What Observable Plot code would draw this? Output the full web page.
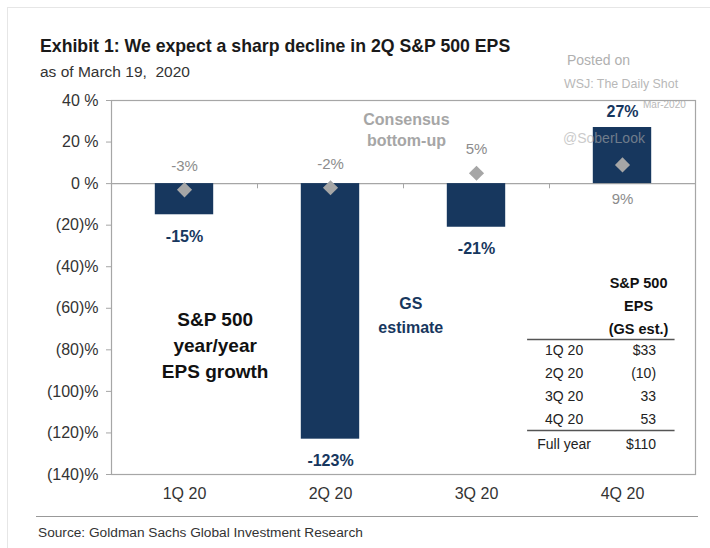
<!DOCTYPE html>
<html>
<head>
<meta charset="utf-8">
<script src="https://cdn.jsdelivr.net/npm/d3@7"></script>
<script src="https://cdn.jsdelivr.net/npm/@observablehq/plot@0.6"></script>
<style>
  html, body { margin: 0; padding: 0; background: #fff; }
  body { width: 710px; height: 548px; position: relative; overflow: hidden;
         font-family: "Liberation Sans", Arial, sans-serif; }
  .abs { position: absolute; white-space: nowrap; line-height: 1; }
  #border { left: 7px; top: 7px; width: 710px; height: 560px; border-left: 1px solid #e6e6e6; border-top: 1px solid #e6e6e6; }
  #title { left: 40px; top: 38px; font-size: 17.7px; font-weight: bold; color: #1a1a1a; }
  #sub { left: 40px; top: 64px; font-size: 15.5px; color: #333; }
  #posted { left: 567px; top: 53px; font-size: 14px; color: #b0b0b0; }
  #wsj { left: 564px; top: 78px; font-size: 12.4px; color: #b8b8b8; }
  #date { left: 643px; top: 100px; font-size: 10px; color: #b8b8b8; z-index: 0; }
  #chart { left: 0; top: 80px; z-index: 1; }
  #handle { left: 563px; top: 131px; font-size: 14px; color: #aaa; opacity: 0.6; z-index: 2; }
  #rule { left: 36px; top: 516px; width: 662px; height: 0; border-top: 1.5px solid #999; }
  #source { left: 38px; top: 526px; font-size: 13.7px; color: #333; }
</style>
</head>
<body>
<div id="border" class="abs"></div>
<div id="title" class="abs">Exhibit 1: We expect a sharp decline in 2Q S&amp;P 500 EPS</div>
<div id="sub" class="abs">as of March 19,&nbsp; 2020</div>
<div id="posted" class="abs">Posted on</div>
<div id="wsj" class="abs">WSJ: The Daily Shot</div>
<div id="date" class="abs">Mar-2020</div>
<div id="chart" class="abs"></div>
<div id="handle" class="abs">@SoberLook</div>
<div id="rule" class="abs"></div>
<div id="source" class="abs">Source: Goldman Sachs Global Investment Research</div>
<script>
// ---- data ----
const quarters = ["1Q 20", "2Q 20", "3Q 20", "4Q 20"];
const gsEstimate = [-15, -123, -21, 27];      // GS estimate, y/y EPS growth %
const consensus = [-3, -2, 5, 9];             // Consensus bottom-up, %
const yTicks = [40, 20, 0, -20, -40, -60, -80, -100, -120, -140];
const tableHeader = ["S&P 500", "EPS", "(GS est.)"];
const tableRowLabels = ["1Q 20", "2Q 20", "3Q 20", "4Q 20", "Full year"];
const tableEps = ["$33", "(10)", "33", "53", "$110"];

// ---- build ----
const navy = "#17375e";
const grey = "#a6a6a6";
const rows = quarters.map((q, i) => ({i, q, gs: gsEstimate[i], cons: consensus[i]}));
const pct = v => (v < 0 ? `(${-v})%` : `${v} %`);

// table layout (in chart units)
const tblLabelX = 2.6, tblValX = 3.23, tblHeadX = 3.11;
const headRows = tableHeader.map((t, k) => ({t, y: -48 - k * 11}));
const bodyRows = tableRowLabels.map((t, k) => ({t, v: tableEps[k], y: -80.5 - k * 11 - (k === 4 ? 1 : 0)}));

const chart = Plot.plot({
  width: 710,
  height: 426,
  marginTop: 20,
  marginBottom: 32,
  marginLeft: 111,
  marginRight: 15,
  style: {fontFamily: "Liberation Sans, Arial, sans-serif", fontSize: "16px", background: "transparent", color: "#333"},
  x: {domain: [-0.5, 3.5], label: null},
  y: {domain: [-140, 40], label: null},
  marks: [
    Plot.frame({stroke: grey, strokeWidth: 1.2}),
    Plot.ruleY([0], {stroke: grey, strokeWidth: 1.2}),
    Plot.ruleX([0.5, 1.5, 2.5], {y1: 0, y2: -2.5, stroke: grey}),
    Plot.rectY(rows, {x1: d => d.i - 0.2, x2: d => d.i + 0.2, y1: 0, y2: "gs", fill: navy}),
    Plot.dot(rows, {x: "i", y: "cons", symbol: "diamond2", r: 6.8, fill: grey}),
    Plot.axisY({ticks: yTicks, tickFormat: pct, tickSize: 5, tickPadding: 8, stroke: grey, fill: "#333", fontSize: 16, label: null}),
    Plot.axisX({ticks: [0, 1, 2, 3], tickFormat: i => quarters[i], tickSize: 0, tickPadding: 13, fill: "#333", fontSize: 16, label: null}),
    // GS estimate labels
    Plot.text(rows.filter(d => d.gs < 0), {x: "i", y: "gs", text: d => `${d.gs}%`, dy: 22, fill: navy, fontWeight: "bold", fontSize: 16}),
    Plot.text(rows.filter(d => d.gs >= 0), {x: "i", y: "gs", text: d => `${d.gs}%`, dy: -16, fill: navy, fontWeight: "bold", fontSize: 16}),
    // Consensus labels
    Plot.text(rows.filter(d => d.cons > d.gs), {x: "i", y: "cons", text: d => `${d.cons}%`, dy: -24, fill: "#8c8c8c", fontSize: 15}),
    Plot.text(rows.filter(d => d.cons <= d.gs), {x: "i", y: "cons", text: d => `${d.cons}%`, dy: 34, fill: "#8c8c8c", fontSize: 15}),
    // annotations
    Plot.text(["Consensus\nbottom-up"], {x: 1.52, y: 26.3, text: d => d, fill: grey, fontWeight: "bold", fontSize: 16, lineHeight: 1.3}),
    Plot.text(["S&P 500\nyear/year\nEPS growth"], {x: 0.21, y: -77, text: d => d, fill: "#111", fontWeight: "bold", fontSize: 19, lineHeight: 1.38}),
    Plot.text(["GS\nestimate"], {x: 1.55, y: -62.5, text: d => d, fill: navy, fontWeight: "bold", fontSize: 16, lineHeight: 1.5}),
    // EPS table
    Plot.text(headRows, {x: tblHeadX, y: "y", text: "t", fill: "#111", fontWeight: "bold", fontSize: 14.5}),
    Plot.ruleY([-75, -118.8], {x1: 2.35, x2: 3.36, stroke: "#555", strokeWidth: 1.5}),
    Plot.text(bodyRows, {x: tblLabelX, y: "y", text: "t", fill: "#222", fontSize: 14}),
    Plot.text(bodyRows, {x: tblValX, y: "y", text: "v", textAnchor: "end", fill: "#222", fontSize: 14})
  ]
});
document.getElementById("chart").appendChild(chart);
</script>
</body>
</html>
